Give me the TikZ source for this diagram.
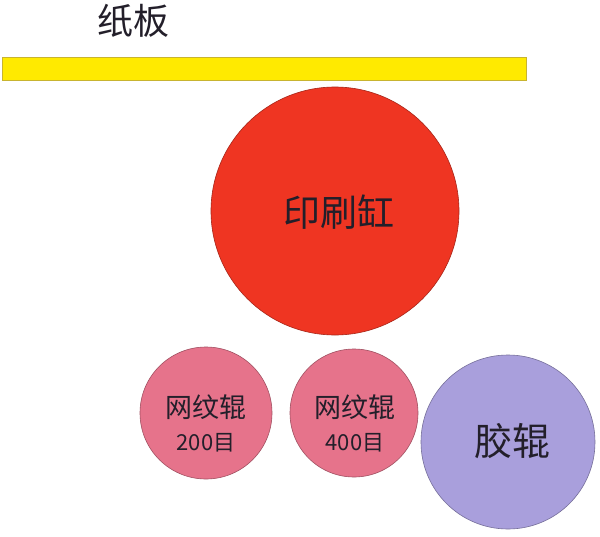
\documentclass[tikz,border=0pt]{standalone}
\usepackage{fontspec}
\setmainfont{Noto Sans CJK SC}
\definecolor{barY}{HTML}{FFEA00}
\definecolor{barB}{HTML}{C8B430}
\definecolor{cylR}{HTML}{EF3522}
\definecolor{aniP}{HTML}{E6738B}
\definecolor{rubV}{HTML}{A99FDC}
\definecolor{txt}{HTML}{231F2A}
\begin{document}
\begin{tikzpicture}[x=1pt,y=-1pt,
  roll/.style={circle,draw=#1!70!black,line width=0.6pt,inner sep=0pt},
  lbl/.style={text=txt,align=center,inner sep=0pt}]
\useasboundingbox[fill=white] (0,0) rectangle (600,536);
\node[lbl,font=\fontsize{36}{40}\selectfont] (title) at (133,21) {纸板};
\node[draw=barB,fill=barY,line width=0.6pt,minimum width=524pt,minimum height=23pt,inner sep=0pt] (board) at (264,68.5) {};
\node[roll=cylR,fill=cylR,minimum size=248pt] (cyl) at (335,211) {};
\node[lbl,font=\fontsize{37}{40}\selectfont] (cyltxt) at (339,212) {印刷缸};
\node[roll=aniP,fill=aniP,minimum size=132pt] (ani1) at (206,413) {};
\node[lbl,font=\fontsize{22}{33}\selectfont] (ani1txt) at (206,423) {{\fontsize{27}{33}\selectfont 网纹辊}\\200目};
\node[roll=aniP,fill=aniP,minimum size=128pt] (ani2) at (354,413) {};
\node[lbl,font=\fontsize{22}{33}\selectfont] (ani2txt) at (355,423) {{\fontsize{27}{33}\selectfont 网纹辊}\\400目};
\node[roll=rubV,fill=rubV,minimum size=174pt] (rub) at (508,442) {};
\node[lbl,font=\fontsize{38}{40}\selectfont] (rubtxt) at (512,441) {胶辊};
\end{tikzpicture}
\end{document}
